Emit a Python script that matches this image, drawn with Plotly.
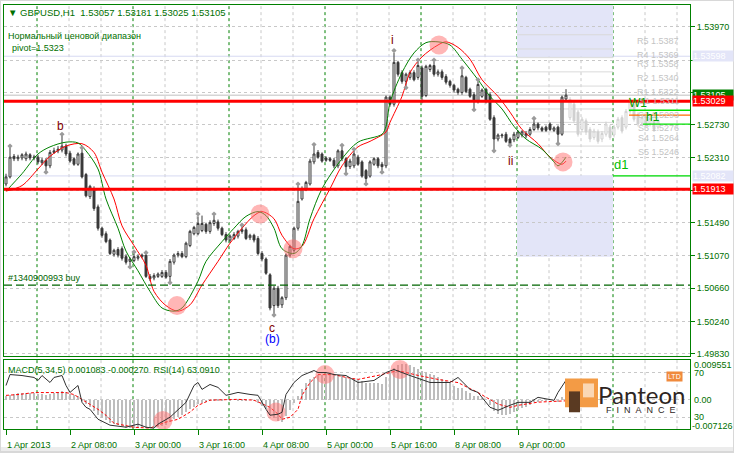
import plotly.graph_objects as go

# ---------------- data (GBPUSD H1) ----------------
opens = [1.5198, 1.5207, 1.5233, 1.5230, 1.5231, 1.5230, 1.5235, 1.5231, 1.5232, 1.5225,
         1.5228, 1.5221, 1.5238, 1.5240, 1.5241, 1.5246, 1.5237, 1.5230, 1.5223, 1.5237,
         1.5210, 1.5182, 1.5192, 1.5169, 1.5142, 1.5135, 1.5127, 1.5109, 1.5115, 1.5116,
         1.5106, 1.5100, 1.5101, 1.5104, 1.5106, 1.5108, 1.5081, 1.5079, 1.5081, 1.5081,
         1.5086, 1.5081, 1.5099, 1.5108, 1.5110, 1.5106, 1.5120, 1.5135, 1.5135, 1.5139,
         1.5147, 1.5138, 1.5148, 1.5150, 1.5142, 1.5134, 1.5127, 1.5129, 1.5132, 1.5138,
         1.5140, 1.5130, 1.5133, 1.5129, 1.5110, 1.5103, 1.5083, 1.5044, 1.5066, 1.5045,
         1.5054, 1.5108, 1.5114, 1.5142, 1.5179, 1.5192, 1.5198, 1.5226, 1.5238, 1.5236,
         1.5231, 1.5230, 1.5228, 1.5221, 1.5240, 1.5230, 1.5220, 1.5221, 1.5232, 1.5226,
         1.5215, 1.5208, 1.5223, 1.5230, 1.5223, 1.5221, 1.5308, 1.5299, 1.5352, 1.5339,
         1.5328, 1.5333, 1.5339, 1.5333, 1.5345, 1.5310, 1.5343, 1.5348, 1.5337, 1.5340,
         1.5334, 1.5328, 1.5323, 1.5318, 1.5314, 1.5333, 1.5318, 1.5311, 1.5303, 1.5309,
         1.5318, 1.5311, 1.5282, 1.5255, 1.5259, 1.5261, 1.5255, 1.5254, 1.5257, 1.5260,
         1.5259, 1.5261, 1.5267, 1.5274, 1.5269, 1.5270, 1.5274, 1.5266, 1.5270, 1.5261,
         1.53057]
highs = [1.5211, 1.5244, 1.5236, 1.5235, 1.5237, 1.5239, 1.5237, 1.5235, 1.5235, 1.5231,
         1.5231, 1.5241, 1.5244, 1.5246, 1.5259, 1.5249, 1.5240, 1.5232, 1.5238, 1.5242,
         1.5212, 1.5197, 1.5195, 1.5172, 1.5144, 1.5138, 1.5129, 1.5116, 1.5118, 1.5119,
         1.5109, 1.5105, 1.5110, 1.5109, 1.5110, 1.5109, 1.5084, 1.5085, 1.5086, 1.5089,
         1.5089, 1.5103, 1.5110, 1.5113, 1.5113, 1.5125, 1.5140, 1.5145, 1.5157, 1.5158,
         1.5149, 1.5152, 1.5158, 1.5153, 1.5144, 1.5137, 1.5134, 1.5137, 1.5140, 1.5144,
         1.5143, 1.5135, 1.5135, 1.5132, 1.5113, 1.5105, 1.5085, 1.5069, 1.5069, 1.5056,
         1.5110, 1.5121, 1.5144, 1.5196, 1.5195, 1.5202, 1.5230, 1.5246, 1.5241, 1.5238,
         1.5233, 1.5232, 1.5231, 1.5242, 1.5245, 1.5232, 1.5230, 1.5240, 1.5235, 1.5228,
         1.5217, 1.5228, 1.5232, 1.5232, 1.5226, 1.5310, 1.5310, 1.5364, 1.5354, 1.5342,
         1.5339, 1.5342, 1.5342, 1.5353, 1.5348, 1.5349, 1.5350, 1.5353, 1.5343, 1.5343,
         1.5337, 1.5330, 1.5325, 1.5320, 1.5343, 1.5335, 1.5320, 1.5314, 1.5328, 1.5319,
         1.5320, 1.5314, 1.5285, 1.5262, 1.5262, 1.5264, 1.5257, 1.5264, 1.5266, 1.5266,
         1.5265, 1.5270, 1.5279, 1.5276, 1.5271, 1.5272, 1.5276, 1.5271, 1.5272, 1.5310,
         1.53181]
lows = [1.5195, 1.5205, 1.5227, 1.5227, 1.5228, 1.5227, 1.5228, 1.5228, 1.5223, 1.5222,
        1.5215, 1.5218, 1.5236, 1.5237, 1.5238, 1.5233, 1.5225, 1.5221, 1.5221, 1.5205,
        1.5181, 1.5179, 1.5164, 1.5139, 1.5130, 1.5123, 1.5108, 1.5106, 1.5105, 1.5101,
        1.5096, 1.5095, 1.5099, 1.5101, 1.5104, 1.5079, 1.5075, 1.5076, 1.5079, 1.5079,
        1.5078, 1.5075, 1.5096, 1.5105, 1.5104, 1.5104, 1.5118, 1.5133, 1.5133, 1.5137,
        1.5135, 1.5135, 1.5145, 1.5139, 1.5132, 1.5124, 1.5124, 1.5127, 1.5129, 1.5135,
        1.5127, 1.5127, 1.5124, 1.5108, 1.5100, 1.5083, 1.5038, 1.5034, 1.5041, 1.5041,
        1.5051, 1.5105, 1.5111, 1.5139, 1.5177, 1.5189, 1.5196, 1.5223, 1.5230, 1.5225,
        1.5226, 1.5226, 1.5218, 1.5218, 1.5227, 1.5213, 1.5217, 1.5218, 1.5221, 1.5206,
        1.5200, 1.5206, 1.5221, 1.5218, 1.5215, 1.5218, 1.5296, 1.5296, 1.5334, 1.5325,
        1.5322, 1.5330, 1.5328, 1.5330, 1.5305, 1.5308, 1.5340, 1.5334, 1.5334, 1.5330,
        1.5324, 1.5320, 1.5314, 1.5311, 1.5311, 1.5313, 1.5307, 1.5293, 1.5300, 1.5307,
        1.5300, 1.5278, 1.5242, 1.5252, 1.5256, 1.5250, 1.5245, 1.5251, 1.5255, 1.5257,
        1.5256, 1.5259, 1.5265, 1.5266, 1.5264, 1.5264, 1.5265, 1.5264, 1.5251, 1.5259,
        1.53025]
closes = [1.5207, 1.5232, 1.5230, 1.5232, 1.5235, 1.5236, 1.5231, 1.5232, 1.5226, 1.5228,
          1.5221, 1.5238, 1.5240, 1.5242, 1.5246, 1.5236, 1.5227, 1.5223, 1.5236, 1.5207,
          1.5183, 1.5195, 1.5167, 1.5142, 1.5133, 1.5125, 1.5110, 1.5114, 1.5108, 1.5104,
          1.5099, 1.5103, 1.5106, 1.5106, 1.5108, 1.5081, 1.5078, 1.5082, 1.5084, 1.5086,
          1.5080, 1.5100, 1.5108, 1.5110, 1.5106, 1.5123, 1.5138, 1.5143, 1.5148, 1.5148,
          1.5138, 1.5149, 1.5152, 1.5142, 1.5134, 1.5127, 1.5132, 1.5134, 1.5138, 1.5140,
          1.5129, 1.5133, 1.5127, 1.5110, 1.5103, 1.5085, 1.5041, 1.5066, 1.5044, 1.5054,
          1.5108, 1.5119, 1.5142, 1.5176, 1.5192, 1.5200, 1.5227, 1.5236, 1.5232, 1.5227,
          1.5228, 1.5228, 1.5221, 1.5240, 1.5230, 1.5220, 1.5227, 1.5236, 1.5223, 1.5208,
          1.5205, 1.5226, 1.5230, 1.5221, 1.5220, 1.5308, 1.5299, 1.5352, 1.5337, 1.5328,
          1.5337, 1.5339, 1.5330, 1.5348, 1.5309, 1.5347, 1.5348, 1.5337, 1.5340, 1.5333,
          1.5327, 1.5323, 1.5317, 1.5314, 1.5335, 1.5315, 1.5309, 1.5303, 1.5324, 1.5317,
          1.5303, 1.5280, 1.5255, 1.5260, 1.5260, 1.5252, 1.5249, 1.5261, 1.5264, 1.5264,
          1.5262, 1.5267, 1.5274, 1.5269, 1.5266, 1.5266, 1.5267, 1.5269, 1.5261, 1.5308,
          1.53105]

# projected (light grey) candles to the right of the last bar
ghost_open = [1.5282, 1.5299, 1.5289, 1.5267, 1.5278, 1.5267, 1.5257, 1.5264, 1.5255, 1.5261,
              1.5270, 1.5260, 1.5270, 1.5282, 1.5270, 1.5290, 1.5299, 1.5286, 1.5275, 1.5282,
              1.5274, 1.5278, 1.5270]
ghost_high = [1.5308, 1.5302, 1.5292, 1.5283, 1.5281, 1.5270, 1.5268, 1.5267, 1.5265, 1.5277,
              1.5273, 1.5273, 1.5283, 1.5285, 1.5293, 1.5308, 1.5302, 1.5289, 1.5285, 1.5285,
              1.5284, 1.5281, 1.5281]
ghost_low = [1.5279, 1.5275, 1.5258, 1.5264, 1.5260, 1.5251, 1.5254, 1.5249, 1.5251, 1.5258,
             1.5254, 1.5257, 1.5267, 1.5262, 1.5267, 1.5287, 1.5277, 1.5271, 1.5272, 1.5269,
             1.5271, 1.5264, 1.5267]
ghost_close = [1.5305, 1.5278, 1.5261, 1.5280, 1.5264, 1.5255, 1.5265, 1.5252, 1.5262, 1.5274,
               1.5257, 1.5270, 1.5280, 1.5265, 1.5290, 1.5305, 1.5280, 1.5274, 1.5282, 1.5272,
               1.5281, 1.5267, 1.5278]

# moving averages (green = fast, red = slow), sampled at bars
ma_fast_bar = [0, 4, 8, 11, 15, 18, 20, 23, 25, 28, 30, 33, 36, 39, 42, 44, 48, 50, 54, 57,
               60, 63, 65, 67, 69, 72, 74, 76, 79, 84, 88, 94, 95, 96, 99, 102, 105, 108, 111,
               114, 118, 121, 124, 127, 130, 134, 137, 138, 140]
ma_fast_val = [1.5189, 1.5211, 1.5236, 1.5245, 1.5251, 1.5250, 1.5240, 1.5217, 1.5179, 1.5142,
               1.5113, 1.5088, 1.5062, 1.5041, 1.5037, 1.5041, 1.5075, 1.5100, 1.5125, 1.5142,
               1.5157, 1.5163, 1.5158, 1.5142, 1.5116, 1.5110, 1.5120, 1.5154, 1.5192, 1.5230,
               1.5251, 1.5261, 1.5271, 1.5301, 1.5339, 1.5364, 1.5377, 1.5378, 1.5374, 1.5356,
               1.5330, 1.5309, 1.5293, 1.5271, 1.5255, 1.5242, 1.5226, 1.5221, 1.5232]
ma_slow_bar = [0, 4, 8, 11, 15, 19, 22, 24, 27, 29, 32, 35, 37, 40, 43, 46, 49, 53, 56, 59,
               62, 64, 67, 69, 72, 74, 77, 81, 84, 88, 91, 95, 96, 99, 101, 104, 108, 110, 113,
               116, 119, 123, 126, 129, 133, 136, 139, 140]
ma_slow_val = [1.5189, 1.5196, 1.5217, 1.5233, 1.5246, 1.5249, 1.5238, 1.5213, 1.5179, 1.5145,
               1.5120, 1.5095, 1.5062, 1.5044, 1.5037, 1.5045, 1.5070, 1.5100, 1.5123, 1.5142,
               1.5158, 1.5163, 1.5154, 1.5133, 1.5116, 1.5119, 1.5154, 1.5192, 1.5221, 1.5245,
               1.5252, 1.5264, 1.5276, 1.5309, 1.5339, 1.5359, 1.5374, 1.5378, 1.5371, 1.5356,
               1.5330, 1.5309, 1.5289, 1.5267, 1.5249, 1.5232, 1.5223, 1.5227]

# fractal markers
frac_up_bar = [1, 14, 19, 32, 35, 48, 52, 59, 73, 77, 84, 87, 97, 103, 107, 114, 118, 132]
frac_up_val = [1.5246, 1.5261, 1.5244, 1.5112, 1.5111, 1.5160, 1.5160, 1.5146, 1.5198, 1.5248,
               1.5247, 1.5242, 1.5367, 1.5355, 1.5355, 1.5345, 1.5330, 1.5281]
frac_dn_bar = [10, 31, 41, 67, 85, 90, 94, 100, 104, 117, 122, 126, 138]
frac_dn_val = [1.5213, 1.5093, 1.5073, 1.5032, 1.5211, 1.5198, 1.5213, 1.5320, 1.5303, 1.5292,
               1.5240, 1.5247, 1.5249]

# highlighted turning points
circle_bar = [42.75, 63.5, 71.75, 108.25, 139.25]
circle_val = [1.5044, 1.5160, 1.5116, 1.5374, 1.5226]

# wave labels
wave_text = ['b', 'i', 'ii', 'c', '(b)']
wave_bar = [13.5, 96.5, 126.0, 66.5, 66.5]
wave_val = [1.5271, 1.5380, 1.5227, 1.5016, 1.5002]
wave_color = ['#800000', '#800000', '#800000', '#800000', '#0000ff']

# MACD(5,34,5) main histogram, signal, RSI(14)
macd_hist = [0.0010, 0.0014, 0.0016, 0.0017, 0.0018, 0.0019, 0.0019, 0.0018, 0.0016, 0.0015,
             0.0013, 0.0016, 0.0018, 0.0020, 0.0022, 0.0020, 0.0016, 0.0013, 0.0011,
             0.0002, -0.0010, -0.0016, -0.0026, -0.0036, -0.0044, -0.0050, -0.0057, -0.0060,
             -0.0063, -0.0066, -0.0069, -0.0070, -0.0070, -0.0069, -0.0068, -0.0071, -0.0071,
             -0.0070, -0.0068, -0.0065, -0.0063,
             -0.0056, -0.0048, -0.0042, -0.0037, -0.0030, -0.0022, -0.0016, -0.0010, -0.0006,
             -0.0004, -0.0001, 0.0002, 0.0002, 0.0001, 0.0000, -0.0001, 0.0000, 0.0001, 0.0002,
             0.0001, 0.0000, -0.0002,
             -0.0008, -0.0014, -0.0022, -0.0036, -0.0046, -0.0052, -0.0054, -0.0040, -0.0025,
             -0.0008, 0.0010, 0.0028, 0.0042, 0.0052, 0.0058, 0.0062, 0.0064, 0.0065,
             0.0065, 0.0064, 0.0062, 0.0060, 0.0057, 0.0054, 0.0052, 0.0050, 0.0047, 0.0044,
             0.0043, 0.0043, 0.0042, 0.0041, 0.0058, 0.0068, 0.0080, 0.0088, 0.0091, 0.0090,
             0.0087, 0.0083, 0.0079, 0.0072, 0.0070, 0.0066, 0.0062, 0.0057, 0.0052, 0.0047,
             0.0042, 0.0036, 0.0031, 0.0030, 0.0024, 0.0018, 0.0010, 0.0010, 0.0006, 0.0000,
             -0.0012, -0.0028, -0.0034, -0.0036, -0.0036, -0.0035, -0.0030, -0.0025, -0.0020,
             -0.0016, -0.0011, -0.0005, -0.0003, -0.0002, -0.0002, 0.0000, 0.0000, -0.0003,
             0.0008, 0.001083]
signal_bar = [0, 3, 7, 11, 15, 17, 19, 20, 23, 25, 27, 32, 36, 40, 43, 46, 48, 51, 55, 58,
              62, 64, 66, 68, 69, 71, 73, 74, 76, 78, 82, 85, 88, 93, 98, 103, 108, 113, 118,
              123, 126, 128, 133, 140]
signal_val = [0.0011, 0.0013, 0.0018, 0.0018, 0.0018, 0.0013, 0.0001, -0.0006, -0.0024, -0.0039,
              -0.0059, -0.0069, -0.0071, -0.0056, -0.0049, -0.0031, -0.0014, -0.0001, 0.0001,
              0.0001, -0.0001, -0.0011, -0.0019, -0.0036, -0.0049, -0.0044, -0.0024, 0.0011,
              0.0043, 0.0063, 0.0063, 0.0056, 0.0051, 0.0061, 0.0073, 0.0061, 0.0051, 0.0043,
              0.0018, -0.0011, -0.0019, -0.0014, -0.0006, -0.00027]
rsi_bar = [0, 1, 4, 7, 8, 9, 11, 12, 14, 15, 16, 18, 19, 20, 21, 23, 26, 30, 33, 35, 37, 38,
           41, 43, 45, 47, 48, 49, 51, 53, 55, 56, 58, 61, 63, 65, 66, 68, 69, 70, 72, 74, 77,
           78, 80, 82, 85, 88, 92, 95, 97, 101, 106, 111, 113, 116, 118, 121, 123, 126, 128,
           131, 133, 137, 138, 140]
rsi_val = [58.4, 68.2, 67.3, 65.6, 62.9, 67.3, 61.1, 65.6, 67.3, 58.4, 52.2, 58.4, 43.3, 38.9,
           37.1, 28.2, 22.9, 21.1, 23.8, 21.1, 20.2, 23.8, 30.0, 37.1, 43.3, 58.4, 61.1, 54.9,
           59.3, 56.7, 49.6, 50.4, 52.2, 50.4, 49.6, 37.1, 31.8, 32.7, 34.4, 50.4, 61.1, 67.3,
           71.8, 70.0, 70.0, 68.2, 67.3, 61.1, 62.9, 70.0, 72.7, 67.3, 61.1, 61.1, 65.6, 54.9,
           52.2, 38.9, 36.2, 40.7, 43.3, 43.3, 47.8, 45.1, 52.2, 63.091]
sub_circle_bar = [39.25, 67.5, 79.75, 98.5]
sub_circle_val = [-0.0052, -0.0031, 0.0063, 0.0076]

# horizontal levels
red_levels = [1.53029, 1.51913]
zone_levels = [1.53598, 1.52082]
order_level = 1.5070
d1_level = 1.52082
w1_level = 1.52914
h1_level = 1.52851
w1b_level = 1.52738
pivot_names = ['R5', 'R4', 'R3', 'R2', 'R1', 'S1', 'S2', 'S3', 'S4', 'S5']
pivot_vals = [1.5387, 1.5369, 1.5358, 1.5340, 1.5322, 1.5311, 1.5293, 1.5276, 1.5264, 1.5246]
pivot_value = 1.5323

price_ticks = [1.53970, 1.53550, 1.53140, 1.52730, 1.52310, 1.51900, 1.51490, 1.51070,
               1.50660, 1.50240, 1.49830]
price_tick_text = ['1.53970', '', '', '1.52730', '1.52310', '', '1.51490', '1.51070',
                   '1.50660', '1.50240', '1.49830']
xtick_bars = [0, 16, 32, 48, 64, 80, 96, 112, 128]
xtick_labels = ['1 Apr 2013', '2 Apr 08:00', '3 Apr 00:00', '3 Apr 16:00', '4 Apr 08:00',
                '5 Apr 00:00', '5 Apr 16:00', '8 Apr 08:00', '9 Apr 00:00']

# ---------------- layout helpers ----------------
W, H = 734, 455
TXT = '#007000'
FRAME = '#008000'
FONT = 'Liberation Sans, Arial, sans-serif'
NB = '\u00a0'


def py(y):
    return 1 - y / H


def px(x):
    return x / W


n = len(closes)
bars = list(range(n))
ghost_bars = list(range(n, n + len(ghost_close)))

X_RANGE = [-0.5, 171]
MAIN_RANGE = [1.498064, 1.542471]
MAIN_DOM = [py(358), py(5)]
SUB_DOM = [py(432), py(362)]
X_DOM = [px(4), px(690)]
MACD_RANGE = [-0.00737, 0.01006]
RSI_RANGE = [19.33, 81.56]
ZONE_X = [127.75, 151.75]

fig = go.Figure()

# ghost candles
fig.add_trace(go.Candlestick(
    x=ghost_bars, open=ghost_open, high=ghost_high, low=ghost_low, close=ghost_close,
    increasing=dict(line=dict(color='#d0d0d0', width=1), fillcolor='#ffffff'),
    decreasing=dict(line=dict(color='#d0d0d0', width=1), fillcolor='#d0d0d0'),
    whiskerwidth=0, xaxis='x', yaxis='y', hoverinfo='skip'))

# moving averages
fig.add_trace(go.Scatter(x=ma_slow_bar, y=ma_slow_val, mode='lines', xaxis='x', yaxis='y',
                         line=dict(color='#ff0000', width=1, shape='spline', smoothing=0.9)))
fig.add_trace(go.Scatter(x=ma_fast_bar, y=ma_fast_val, mode='lines', xaxis='x', yaxis='y',
                         line=dict(color='#008000', width=1, shape='spline', smoothing=0.9)))

# candles
fig.add_trace(go.Candlestick(
    x=bars, open=opens, high=highs, low=lows, close=closes,
    increasing=dict(line=dict(color='#3a3a3a', width=1), fillcolor='#ffffff'),
    decreasing=dict(line=dict(color='#3a3a3a', width=1), fillcolor='#3a3a3a'),
    whiskerwidth=0, xaxis='x', yaxis='y', hoverinfo='skip'))

# fractals
fig.add_trace(go.Scatter(x=frac_up_bar, y=frac_up_val, mode='markers', xaxis='x', yaxis='y',
                         marker=dict(symbol='diamond', size=4, color='#9a9a9a')))
fig.add_trace(go.Scatter(x=frac_dn_bar, y=frac_dn_val, mode='markers', xaxis='x', yaxis='y',
                         marker=dict(symbol='diamond', size=4, color='#9a9a9a')))

# highlight circles
fig.add_trace(go.Scatter(x=circle_bar, y=circle_val, mode='markers', xaxis='x', yaxis='y',
                         marker=dict(size=19, color='rgba(255,110,110,0.5)', line=dict(width=0))))

# sub window
fig.add_trace(go.Bar(x=bars, y=macd_hist, xaxis='x2', yaxis='y2', width=0.5,
                     marker=dict(color='#bdbdbd', line=dict(width=0))))
fig.add_trace(go.Scatter(x=signal_bar, y=signal_val, mode='lines', xaxis='x2', yaxis='y2',
                         line=dict(color='#ff0000', width=1, dash='3px,2px')))
fig.add_trace(go.Scatter(x=rsi_bar, y=rsi_val, mode='lines', xaxis='x2', yaxis='y3',
                         line=dict(color='#303030', width=1)))
fig.add_trace(go.Scatter(x=sub_circle_bar, y=sub_circle_val, mode='markers', xaxis='x2', yaxis='y2',
                         marker=dict(size=19, color='rgba(255,110,110,0.5)', line=dict(width=0))))

shapes = []
# vertical grid / day separators
for k in range(1, 22):
    xb = 8 * k - 0.25
    day = (k % 3 == 1)
    shapes.append(dict(type='line', xref='x', yref='paper', x0=xb, x1=xb,
                       y0=SUB_DOM[0], y1=MAIN_DOM[1], layer='below',
                       line=dict(color=FRAME if day else '#c8c8c8', width=1, dash='3px,3px')))
# lavender zones
shapes.append(dict(type='rect', xref='x', yref='y', x0=ZONE_X[0], x1=ZONE_X[1],
                   y0=zone_levels[0], y1=MAIN_RANGE[1], fillcolor='#e3e5f8', line=dict(width=0),
                   layer='below'))
shapes.append(dict(type='rect', xref='x', yref='y', x0=ZONE_X[0], x1=ZONE_X[1],
                   y0=1.5106, y1=zone_levels[1], fillcolor='#e3e5f8', line=dict(width=0),
                   layer='below'))
for lv in zone_levels:
    shapes.append(dict(type='line', xref='paper', yref='y', x0=X_DOM[0], x1=X_DOM[1],
                       y0=lv, y1=lv, layer='below', line=dict(color='#d6d9f2', width=1)))
# pivot lines
for pv in pivot_vals:
    shapes.append(dict(type='line', xref='x', yref='y', x0=ZONE_X[0], x1=ZONE_X[1],
                       y0=pv, y1=pv, layer='below', line=dict(color='#dadada', width=1)))
# bid line
shapes.append(dict(type='line', xref='paper', yref='y', x0=X_DOM[0], x1=X_DOM[1],
                   y0=closes[-1], y1=closes[-1], layer='below', line=dict(color='#c0c0c0', width=1)))
# order line
shapes.append(dict(type='line', xref='paper', yref='y', x0=X_DOM[0], x1=X_DOM[1],
                   y0=order_level, y1=order_level, line=dict(color='#006400', width=1.3, dash='8px,4px')))
# red support / resistance
for lv in red_levels:
    shapes.append(dict(type='line', xref='paper', yref='y', x0=X_DOM[0], x1=X_DOM[1],
                       y0=lv, y1=lv, line=dict(color='#ff0000', width=3)))
# d1 / W1 / h1 levels
shapes.append(dict(type='line', xref='x', yref='y', x0=151.75, x1=X_RANGE[1],
                   y0=d1_level, y1=d1_level, line=dict(color='#00e000', width=1.3)))
shapes.append(dict(type='line', xref='x', yref='y', x0=155.75, x1=X_RANGE[1],
                   y0=w1_level, y1=w1_level, line=dict(color='#00e000', width=1.3)))
shapes.append(dict(type='line', xref='x', yref='y', x0=155.75, x1=X_RANGE[1],
                   y0=h1_level, y1=h1_level, line=dict(color='#ff6a00', width=1.3)))
shapes.append(dict(type='line', xref='x', yref='y', x0=159.25, x1=X_RANGE[1],
                   y0=w1b_level, y1=w1b_level, line=dict(color='#00e000', width=1.3)))
# logo icon
shapes.append(dict(type='rect', xref='paper', yref='paper', x0=px(565), x1=px(598),
                   y0=py(410), y1=py(381), fillcolor='#f39b45', line=dict(width=0)))
shapes.append(dict(type='rect', xref='paper', yref='paper', x0=px(569), x1=px(580),
                   y0=py(415), y1=py(394), fillcolor='#5a3a22', line=dict(width=0)))
shapes.append(dict(type='rect', xref='paper', yref='paper', x0=px(583), x1=px(594),
                   y0=py(400), y1=py(386), fillcolor='#ffffff', line=dict(width=0), opacity=0.6))
# window bottom strip and outer border
shapes.append(dict(type='rect', xref='paper', yref='paper', x0=0, x1=1, y0=0, y1=py(450),
                   fillcolor='#ececec', line=dict(width=0), layer='below'))
shapes.append(dict(type='rect', xref='paper', yref='paper', x0=0, x1=1, y0=0, y1=1,
                   line=dict(color='#d8d8d8', width=2), layer='below'))

ann = []


def text(x, y, s, size=9, color=TXT, anchor='left', **kw):
    d = dict(x=px(x), y=py(y), xref='paper', yref='paper', text=s, showarrow=False,
             xanchor=anchor, yanchor='middle', font=dict(size=size, color=color, family=FONT))
    d.update(kw)
    ann.append(d)


title = ('\u25bc' + NB + 'GBPUSD,H1' + NB * 2 + f'{opens[-1]:.5f} {highs[-1]:.5f} '
         f'{lows[-1]:.5f} {closes[-1]:.5f}')
text(6, 13, title, size=9.5)
text(6, 36, 'Нормальный ценовой диапазон')
text(10, 48, f'pivot={pivot_value:.4f}')
text(6, 372, 'MACD(5,34,5) 0.001083 -0.000270' + NB * 2 + 'RSI(14) 63.0910')

# order label
ann.append(dict(x=px(6), xref='paper', y=order_level, yref='y', yshift=7, text='#1340900993 buy',
                showarrow=False, xanchor='left', yanchor='middle',
                font=dict(size=9, color='#006400', family=FONT)))

# x labels
for b, lab in zip(xtick_bars, xtick_labels):
    ann.append(dict(x=b - 0.25, xref='x2', y=py(448), yref='paper', text=lab, showarrow=False,
                    xanchor='left', yanchor='middle', font=dict(size=9, color=TXT, family=FONT)))

# sub window scale labels
text(692, 367, '0.009551')
text(692, 375, '70')
text(692, 403, '0.00')
text(692, 420, '30')
text(690, 429, '-0.007126')

# pivot labels
for nm, pv in zip(pivot_names, pivot_vals):
    ann.append(dict(x=px(681), xref='paper', y=pv, yref='y', yshift=-6, text=f'{nm} {pv:.4f}',
                    showarrow=False, xanchor='right', yanchor='middle',
                    font=dict(size=9, color='#c4c4c4', family=FONT)))


def price_box(level, bg, fg='white'):
    ann.append(dict(x=px(692), xref='paper', y=level, yref='y', text=f'{level:.5f}',
                    showarrow=False, xanchor='left', yanchor='middle', bgcolor=bg,
                    width=40, height=10, borderpad=0, align='left',
                    font=dict(size=9, color=fg, family=FONT)))


price_box(zone_levels[0], '#e3e5f8')
price_box(closes[-1], '#008000')
price_box(red_levels[0], '#ff0000')
price_box(zone_levels[1], '#e3e5f8')
price_box(red_levels[1], '#ff0000')

# wave labels
for t, b, v, c in zip(wave_text, wave_bar, wave_val, wave_color):
    ann.append(dict(x=b, xref='x', y=v, yref='y', text=t, showarrow=False,
                    font=dict(size=12, color=c, family=FONT)))

# level tags
text(612, 166, 'd1', size=13, color='#00c000')
text(627, 104, 'W1', size=12, color='#00a000')
text(644, 118, 'h1', size=12, color='#00a000')

# logo
text(641, 397, 'Panteon', anchor='center',
     font=dict(size=24, color='#2e2522', family='Lato, Liberation Sans, sans-serif'))
text(641, 413, 'F' + NB * 2 + 'I' + NB * 2 + 'N' + NB * 2 + 'A' + NB * 2 + 'N' + NB * 2 + 'C' + NB * 2 + 'E',
     size=9, color='#2e2522', anchor='center')
text(674, 379, 'LTD', size=7, color='white', anchor='center', bgcolor='#f08a3c', borderpad=1)

axis_common = dict(zeroline=False, showline=True, mirror=True, linecolor=FRAME, linewidth=1,
                   fixedrange=True)

fig.update_layout(
    width=W, height=H, margin=dict(l=0, r=0, t=0, b=0),
    paper_bgcolor='white', plot_bgcolor='white', showlegend=False, hovermode=False,
    font=dict(family=FONT, size=9, color=TXT), bargap=0,
    xaxis=dict(domain=X_DOM, range=X_RANGE, anchor='y', showgrid=False, ticks='',
               showticklabels=False, rangeslider=dict(visible=False), **axis_common),
    yaxis=dict(domain=MAIN_DOM, range=MAIN_RANGE, anchor='x', side='right', showgrid=True,
               gridcolor='#c8c8c8', griddash='3px,3px', gridwidth=1, tickmode='array',
               tickvals=price_ticks, ticktext=price_tick_text, ticks='outside', ticklen=4,
               tickcolor=FRAME, tickfont=dict(size=9, color=TXT, family=FONT), **axis_common),
    xaxis2=dict(domain=X_DOM, range=X_RANGE, anchor='y2', showgrid=False, ticks='outside',
                ticklen=5, tickcolor=FRAME, tickmode='array', tickvals=xtick_bars,
                showticklabels=False, rangeslider=dict(visible=False), **axis_common),
    yaxis2=dict(domain=SUB_DOM, range=MACD_RANGE, anchor='x2', side='right', showgrid=True,
                gridcolor='#c8c8c8', griddash='3px,3px', tickmode='array', tickvals=[0],
                showticklabels=False, ticks='', **axis_common),
    yaxis3=dict(overlaying='y2', range=RSI_RANGE, anchor='x2', side='right', showgrid=True,
                gridcolor='#c8c8c8', griddash='3px,3px', tickmode='array', tickvals=[30, 70],
                showticklabels=False, ticks='', zeroline=False, showline=False, fixedrange=True),
    shapes=shapes, annotations=ann,
)

# remove the browser's default 8px page margin so the figure sits at the window origin
fig.write_html('out.html', config={'displayModeBar': False},
               post_script="document.body.style.margin='0';"
                           "document.body.style.overflow='hidden';")
